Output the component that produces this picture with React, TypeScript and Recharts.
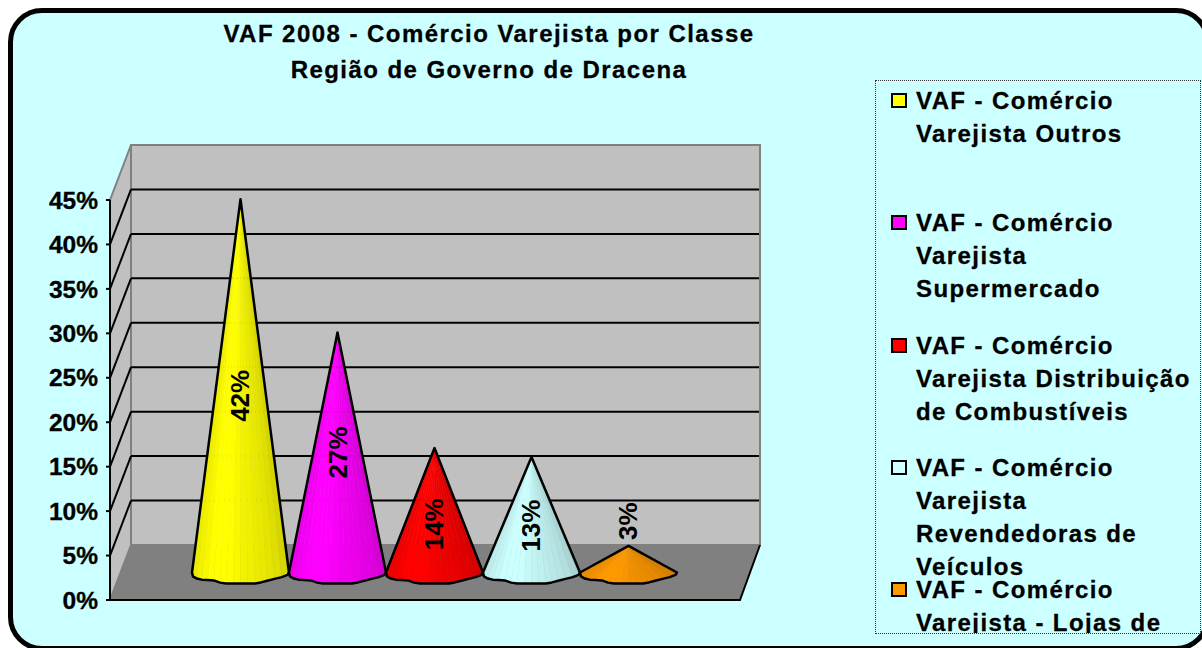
import React from "react"
import {
  Bar,
  BarChart,
  CartesianGrid,
  LabelList,
  Legend,
  XAxis,
  YAxis,
  usePlotArea,
} from "recharts"

const categories = ["VAF 2008"]
const seriesKeys = ["outros", "supermercado", "combustiveis", "veiculos", "lojas"]
const seriesNames = [
  "VAF - Comércio Varejista Outros",
  "VAF - Comércio Varejista Supermercado",
  "VAF - Comércio Varejista Distribuição de Combustíveis",
  "VAF - Comércio Varejista Revendedoras de Veículos",
  "VAF - Comércio Varejista - Lojas de Departamentos",
]
const seriesValues = [42, 27, 14, 13, 3]
const seriesColors = ["#ffff00", "#ff00ff", "#ff0000", "#ccffff", "#ff9900"]
const yTicks = [0, 5, 10, 15, 20, 25, 30, 35, 40, 45]

const data = categories.map((category) => {
  const row: Record<string, string | number> = { category }
  seriesKeys.forEach((key, i) => {
    row[key] = seriesValues[i]
  })
  return row
})

// 3D look: how far the back wall sits from the front axis
const DEPTH_X = 21
const DEPTH_Y = 55
const FONT = "'Liberation Sans', Arial, sans-serif"

// the base of the excel cone is a rough polygon, not a clean ellipse
const baseOutline = [
  [-1, 0], [-0.98, 0.35], [-0.9, 0.55], [-0.8, 0.65], [-0.68, 0.68], [-0.55, 0.72],
  [-0.42, 0.92], [-0.3, 1], [-0.15, 1], [0, 1], [0.15, 1], [0.3, 1], [0.42, 0.9],
  [0.55, 0.75], [0.7, 0.58], [0.85, 0.42], [0.97, 0.22], [1, 0],
]
const shadeStops = [0.92, 1, 1, 0.95, 0.92, 0.88, 0.8]

function shade(hex: string, t: number) {
  const pos = ((t + 1) / 2) * (shadeStops.length - 1)
  const i = Math.min(Math.floor(pos), shadeStops.length - 2)
  const f = shadeStops[i] + (shadeStops[i + 1] - shadeStops[i]) * (pos - i)
  const c = [1, 3, 5].map((p) => Math.round(parseInt(hex.slice(p, p + 2), 16) * f))
  return `rgb(${c[0]},${c[1]},${c[2]})`
}

function Cone(props: any) {
  const { x, y, width, height, fill } = props
  const cx = x + width / 2 + DEPTH_X / 2 - 0.5
  const apex = y - DEPTH_Y / 2
  const baseY = apex + height
  const r = width / 2
  const pts = baseOutline.map(([u, v]) => [cx + u * r, baseY + v * 11])
  const outline = `${cx},${apex} ` + pts.map((p) => p.join(",")).join(" ")
  return (
    <g>
      {pts.slice(1).map((p, i) => (
        <polygon
          key={i}
          points={`${cx},${apex} ${pts[i].join(",")} ${p.join(",")}`}
          fill={shade(fill, baseOutline[i][0])}
          stroke={shade(fill, baseOutline[i][0])}
          strokeWidth={0.5}
        />
      ))}
      <polygon points={outline} fill="none" stroke="#000" strokeWidth={2.5} strokeLinejoin="round" />
    </g>
  )
}

const labelShift = [10, 0, 14, 11, -38]

function RotatedLabel(props: any) {
  const { x, y, width, height, value, index, shift } = props
  const cx = x + width / 2 + DEPTH_X / 2 - 0.5
  const cy = y - DEPTH_Y / 2 + height / 2 + shift
  return (
    <text
      key={index}
      transform={`rotate(-90 ${cx} ${cy})`}
      x={cx}
      y={cy}
      textAnchor="middle"
      dominantBaseline="central"
      fontFamily={FONT}
      fontSize={26}
      fontWeight="bold"
      fill="#000"
    >
      {value}%
    </text>
  )
}

function Walls() {
  const plot = usePlotArea()
  if (!plot) return null
  const { x, y, width, height } = plot
  const bottom = y + height
  const right = x + width
  return (
    <g>
      <polygon
        points={`${x + DEPTH_X},${y - DEPTH_Y} ${right + DEPTH_X - 1},${y - DEPTH_Y} ${right + DEPTH_X - 1},${bottom - DEPTH_Y} ${x + DEPTH_X},${bottom - DEPTH_Y}`}
        fill="#c0c0c0"
        stroke="#808080"
        strokeWidth={2}
      />
      <polygon
        points={`${x},${y} ${x + DEPTH_X},${y - DEPTH_Y} ${x + DEPTH_X},${bottom - DEPTH_Y} ${x},${bottom}`}
        fill="#c0c0c0"
        stroke="#808080"
        strokeWidth={2}
      />
      <polygon
        points={`${x},${bottom} ${x + DEPTH_X},${bottom - DEPTH_Y} ${right + DEPTH_X - 1},${bottom - DEPTH_Y} ${right},${bottom}`}
        fill="#808080"
      />
      <polyline
        points={`${x},${bottom} ${right},${bottom} ${right + DEPTH_X - 1},${bottom - DEPTH_Y}`}
        fill="none"
        stroke="#000"
        strokeWidth={2}
      />
    </g>
  )
}

function WallGridLine(props: any) {
  const { x1, x2, y1, index } = props
  const plot = usePlotArea()
  // the walls go in with the first line, so every line lands on top of them
  const isEdge = !plot || Math.abs(y1 - plot.y) < 1 || Math.abs(y1 - plot.y - plot.height) < 1
  return (
    <g>
      {index === 0 && <Walls />}
      {!isEdge && (
        <>
          <line x1={x1 + DEPTH_X} x2={x2 + DEPTH_X - 2} y1={y1 - DEPTH_Y} y2={y1 - DEPTH_Y} stroke="#000" strokeWidth={2} />
          <line x1={x1} x2={x1 + DEPTH_X} y1={y1} y2={y1 - DEPTH_Y} stroke="#000" strokeWidth={2} />
        </>
      )}
    </g>
  )
}

function LegendBox(props: any) {
  const { payload } = props
  return (
    <div
      style={{
        width: 326,
        height: 554,
        boxSizing: "border-box",
        border: "1px dotted #333",
        overflow: "hidden",
        position: "relative",
        fontFamily: FONT,
        fontWeight: "bold",
        fontSize: 24,
        lineHeight: "33px",
        letterSpacing: 1.4,
        WebkitTextStroke: "0.3px #000",
        color: "#000",
      }}
    >
      {(payload || []).map((item: any, i: number) => (
        <div key={item.value} style={{ position: "absolute", left: 0, top: 3 + i * 122.3, width: 320 }}>
          <span
            style={{
              position: "absolute",
              left: 15,
              top: 9,
              width: 12,
              height: 11,
              background: item.color,
              border: "2px solid #000",
            }}
          />
          <div style={{ marginLeft: 40, width: 282 }}>{item.value}</div>
        </div>
      ))}
    </div>
  )
}

export default function App() {
  return (
    <div style={{ position: "absolute", left: 0, top: 0, width: 1202, height: 648, overflow: "hidden", background: "#fff" }}>
      <div
        style={{
          position: "absolute",
          left: 8,
          top: 8,
          width: 1202,
          height: 643,
          boxSizing: "border-box",
          border: "5px solid #000",
          borderRadius: 34,
          background: "#ccffff",
        }}
      />
      <div
        style={{
          position: "absolute",
          left: 140,
          top: 16,
          width: 698,
          textAlign: "center",
          fontFamily: FONT,
          fontWeight: "bold",
          fontSize: 24,
          lineHeight: "36px",
          letterSpacing: 1.45,
          WebkitTextStroke: "0.3px #000",
          color: "#000",
        }}
      >
        VAF 2008 - Comércio Varejista por Classe
        <br />
        Região de Governo de Dracena
      </div>
      <div style={{ position: "absolute", left: 0, top: 0 }}>
        <BarChart
          width={1202}
          height={648}
          data={data}
          margin={{ top: 200, right: 462, bottom: 48, left: 40 }}
          barCategoryGap={72}
          barGap={0}
          style={{ background: "transparent" }}
        >
          <CartesianGrid vertical={false} horizontal={(p: any) => <WallGridLine {...p} />} />
          <XAxis dataKey="category" hide />
          <YAxis
            width={70}
            domain={[0, 45]}
            ticks={yTicks}
            interval={0}
            tickFormatter={(v) => `${v}%`}
            tick={{ fill: "#000", stroke: "#000", strokeWidth: 0.3, fontFamily: FONT, fontSize: 24.5, fontWeight: "bold" }}
            axisLine={{ stroke: "#000", strokeWidth: 2 }}
            tickLine={{ stroke: "#000", strokeWidth: 2 }}
            tickSize={4}
            tickMargin={8}
          />
          <Legend
            layout="vertical"
            align="center"
            verticalAlign="middle"
            itemSorter={null}
            content={LegendBox}
            wrapperStyle={{ position: "absolute", left: 875, top: 80, width: 326, height: 554 }}
          />
          {seriesKeys.map((key, i) => (
            <Bar
              key={key}
              dataKey={key}
              name={seriesNames[i]}
              fill={seriesColors[i]}
              shape={Cone}
              isAnimationActive={false}
            >
              <LabelList
                dataKey={key}
                content={(p: any) => <RotatedLabel {...p} shift={labelShift[i]} />}
              />
            </Bar>
          ))}
        </BarChart>
      </div>
    </div>
  )
}
